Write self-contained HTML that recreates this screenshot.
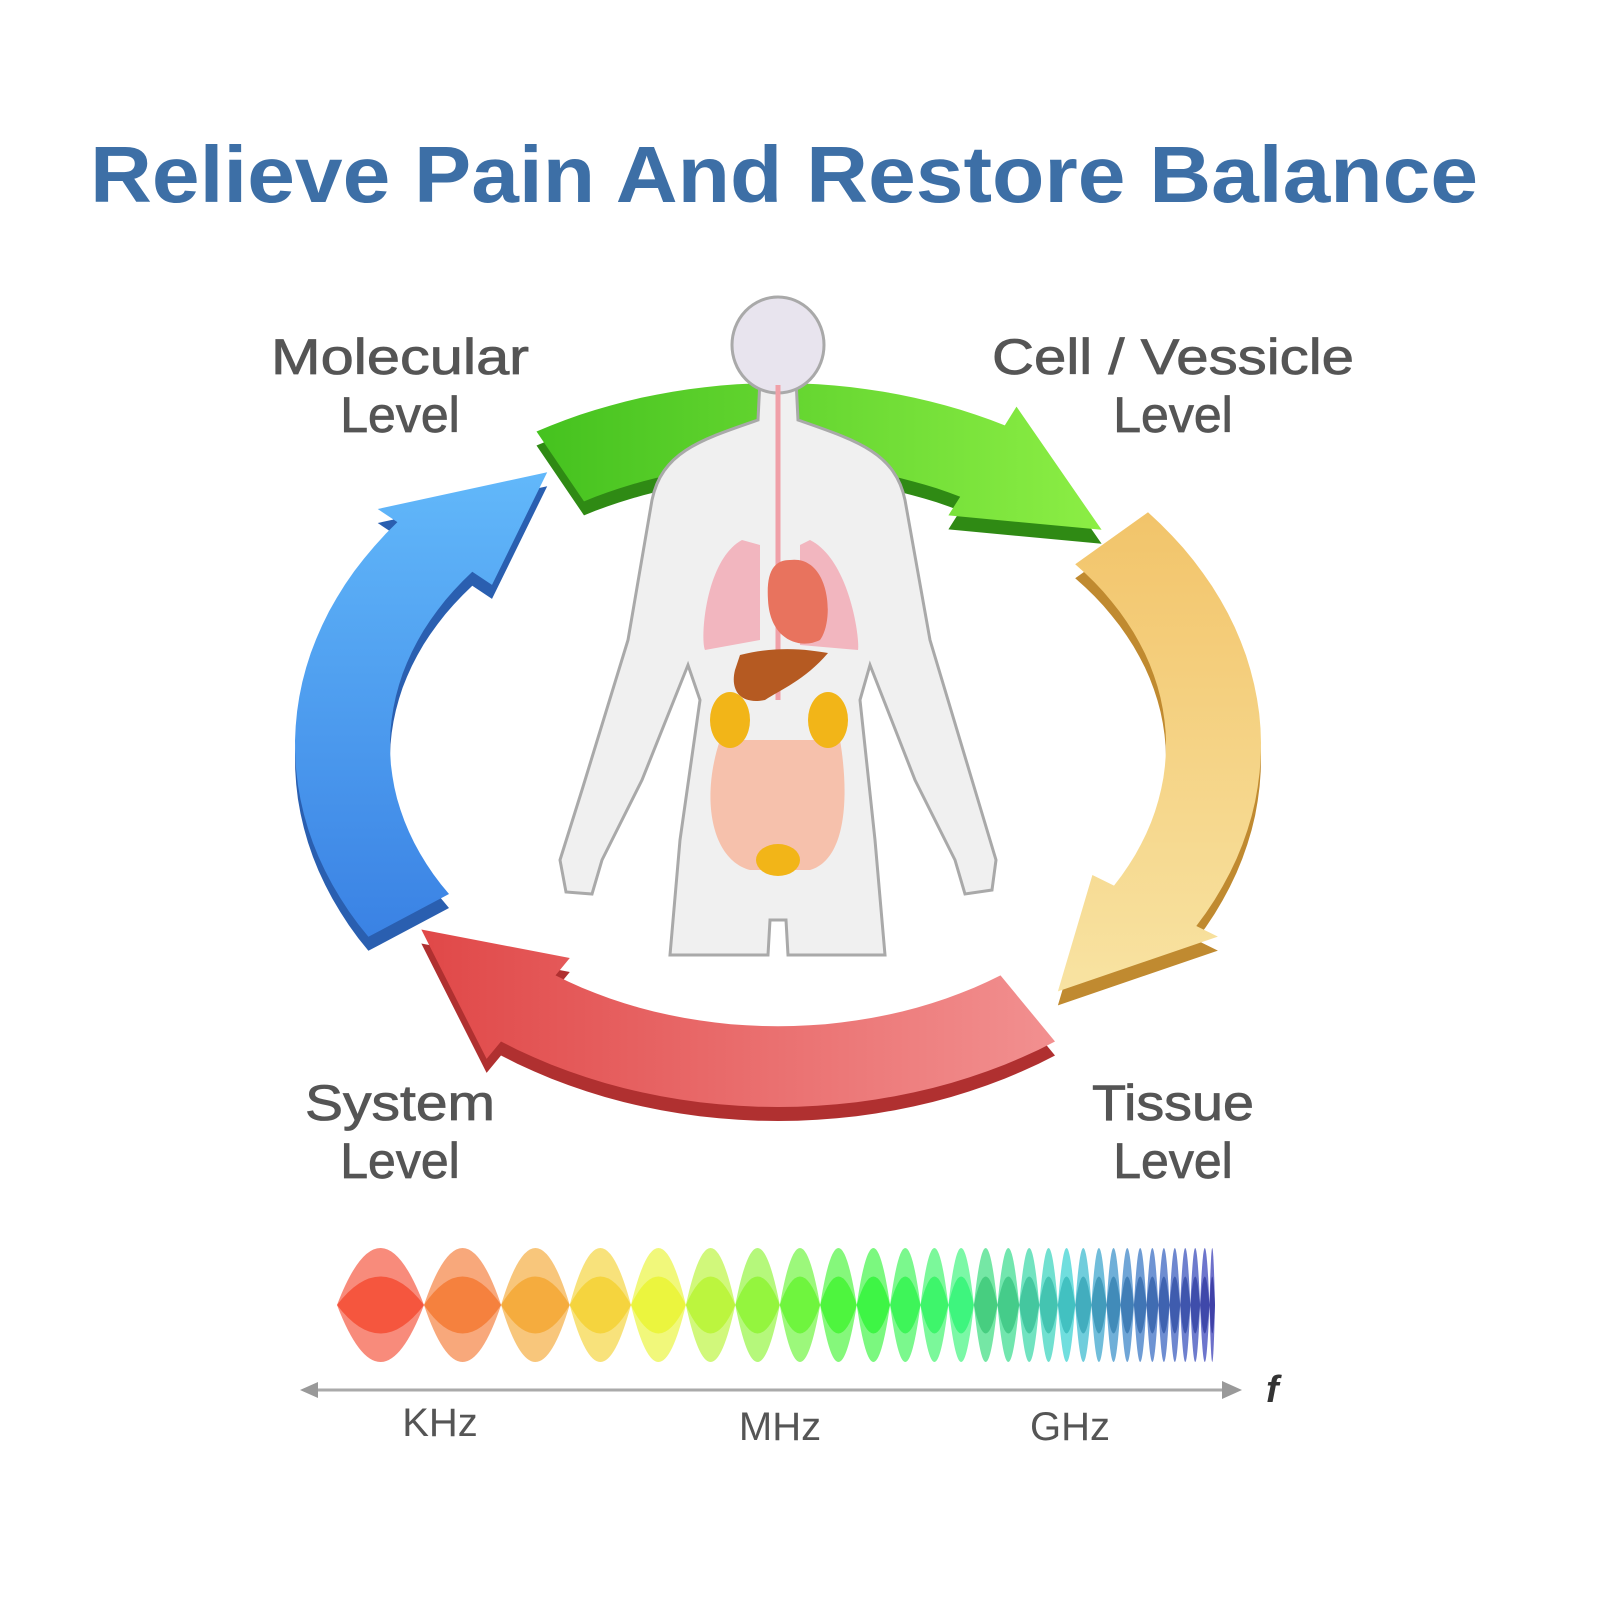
<!DOCTYPE html>
<html><head><meta charset="utf-8"><style>
html,body{margin:0;padding:0;background:#fff;width:1600px;height:1600px;overflow:hidden}
svg{display:block}
text{font-family:"Liberation Sans","DejaVu Sans",sans-serif}
</style></head><body>
<svg id="s" width="1600" height="1600" viewBox="0 0 1600 1600" xmlns="http://www.w3.org/2000/svg">
<defs>
<linearGradient id="gG" x1="0" y1="0" x2="1" y2="0"><stop offset="0" stop-color="#45c21f"/><stop offset="1" stop-color="#8cee45"/></linearGradient>
<linearGradient id="gY" x1="0" y1="0" x2="0" y2="1"><stop offset="0" stop-color="#f2c46a"/><stop offset="1" stop-color="#f8e3a2"/></linearGradient>
<linearGradient id="gR" x1="0" y1="0" x2="1" y2="0"><stop offset="0" stop-color="#e04848"/><stop offset="1" stop-color="#f29090"/></linearGradient>
<linearGradient id="gB" x1="0" y1="1" x2="0" y2="0"><stop offset="0" stop-color="#3a82e4"/><stop offset="1" stop-color="#62b8fa"/></linearGradient>
</defs>
<text x="90" y="202" textLength="1388" lengthAdjust="spacingAndGlyphs" font-size="80" font-weight="bold" fill="#3d6fa6">Relieve Pain And Restore Balance</text>
<g font-size="50" fill="#555" text-anchor="middle" stroke="#555" stroke-width="0.8">
<text x="400" y="374" textLength="258" lengthAdjust="spacingAndGlyphs">Molecular</text><text x="400" y="432">Level</text>
<text x="1173" y="374" textLength="362" lengthAdjust="spacingAndGlyphs">Cell / Vessicle</text><text x="1173" y="432">Level</text>
<text x="400" y="1120" textLength="190" lengthAdjust="spacingAndGlyphs">System</text><text x="400" y="1178">Level</text>
<text x="1173" y="1120" textLength="162" lengthAdjust="spacingAndGlyphs">Tissue</text><text x="1173" y="1178">Level</text>
</g>
<g id="arrows"></g>
<g id="body">
<path d="M760 380 L758 420 C700 440 662 452 652 500 L628 640 L582 790 L560 860 L566 892 L592 894 L602 860 L642 780 L688 665 L700 700 L680 840 L670 955 L768 955 L770 920 L786 920 L788 955 L885 955 L875 840 L860 700 L870 665 L915 780 L955 860 L965 894 L992 890 L996 860 L975 790 L930 640 L905 500 C895 452 855 440 798 420 L796 380 Z" fill="#f0f0f0" stroke="#a9a9a9" stroke-width="3"/>
<ellipse cx="778" cy="345" rx="46" ry="48" fill="#e8e4ee" stroke="#a9a9a9" stroke-width="3"/>
<path d="M742 540 C705 560 700 640 705 650 L760 640 L760 545 Z" fill="#f2b6bf"/>
<path d="M810 540 C850 560 860 640 858 650 L800 645 L800 545 Z" fill="#f2b6bf"/>
<line x1="778" y1="385" x2="778" y2="700" stroke="#f0a0a8" stroke-width="5"/>
<path d="M790 560 C830 555 835 620 820 640 C800 650 770 640 768 600 C766 570 775 560 790 560Z" fill="#e8735e"/>
<path d="M740 655 C780 645 810 650 828 653 C805 680 780 690 765 700 C740 705 730 690 735 670Z" fill="#b55a22"/>
<path d="M720 740 C700 800 712 860 750 870 L810 870 C845 860 850 800 840 740 Z" fill="#f7b9a0" opacity="0.85"/>
<ellipse cx="730" cy="720" rx="20" ry="28" fill="#f2b518"/>
<ellipse cx="828" cy="720" rx="20" ry="28" fill="#f2b518"/>
<ellipse cx="778" cy="860" rx="22" ry="16" fill="#f2b518"/>
</g>
<line x1="305" y1="1390" x2="1235" y2="1390" stroke="#aaa" stroke-width="3"/>
<path d="M300 1390 L318 1382 L318 1398Z M1242 1390 L1222 1381 L1222 1399Z" fill="#999"/>
<g id="wave"></g>
<g font-size="40" fill="#555" text-anchor="middle">
<text x="440" y="1436">KHz</text><text x="780" y="1440">MHz</text><text x="1070" y="1440">GHz</text>
</g>
<text x="1266" y="1402" font-size="38" font-style="italic" font-weight="bold" fill="#333">f</text>
</svg>
<script>
var NS="http://www.w3.org/2000/svg";
var cx=778,cy=745,rxo=483,ryo=362,th=95;
function pt(t,r){var a=t*Math.PI/180;return [cx+(rxo-r)*Math.cos(a),cy+(ryo-r*0.85)*Math.sin(a)];}
function arrow(a1,a2,fill,dark){
 var dir=a2>a1?1:-1,head=20*dir,body=a2-head,pts=[],n=30,i;
 for(i=0;i<=n;i++)pts.push(pt(a1+(body-a1)*i/n,0));
 pts.push(pt(body,-25));pts.push(pt(a2,th/2));pts.push(pt(body,th+25));
 for(i=n;i>=0;i--)pts.push(pt(a1+(body-a1)*i/n,th));
 var d="M"+pts.map(function(p){return p[0].toFixed(1)+" "+p[1].toFixed(1)}).join(" L")+"Z";
 var g=document.getElementById("arrows");
 var sh=document.createElementNS(NS,"path");sh.setAttribute("d",d);sh.setAttribute("fill",dark);sh.setAttribute("transform","translate(0,14)");g.appendChild(sh);
 var p=document.createElementNS(NS,"path");p.setAttribute("d",d);p.setAttribute("fill",fill);g.appendChild(p);
}
arrow(148,238,"url(#gB)","#2a5fb0");
arrow(55,145,"url(#gR)","#b03030");
arrow(-40,50,"url(#gY)","#c08a30");
arrow(240,318,"url(#gG)","#2f8a14");
function hueAt(f){var s=[[0,8],[0.12,25],[0.3,55],[0.55,115],[0.75,150],[0.88,205],[1,240]];
 for(var i=1;i<s.length;i++){if(f<=s[i][0]){var u=(f-s[i-1][0])/(s[i][0]-s[i-1][0]);return s[i-1][1]+u*(s[i][1]-s[i-1][1]);}}return 240;}
var wg=document.getElementById("wave"),x=337,y0=1305,H=114;
while(x<1215){
 var f=(x-337)/878,w=78*Math.pow(1-f,1.3)+9;
 if(x+w>1215)w=1215-x;
 var hue=hueAt(f),L=f>0.7?(52-(f-0.7)*40):58,S=f>0.7?70:90;
 var p=document.createElementNS(NS,"path");
 p.setAttribute("d","M"+x+" "+y0+" Q"+(x+w/2)+" "+(y0-H)+" "+(x+w)+" "+y0+" Q"+(x+w/2)+" "+(y0+H)+" "+x+" "+y0+"Z");
 p.setAttribute("fill","hsl("+hue+","+S+"%,"+L+"%)");p.setAttribute("opacity","0.65");
 wg.appendChild(p);
 var q=document.createElementNS(NS,"path");
 q.setAttribute("d","M"+x+" "+y0+" Q"+(x+w/2)+" "+(y0-H*0.5)+" "+(x+w)+" "+y0+" Q"+(x+w/2)+" "+(y0+H*0.5)+" "+x+" "+y0+"Z");
 q.setAttribute("fill","hsl("+hue+","+S+"%,"+(L-8)+"%)");q.setAttribute("opacity","0.55");
 wg.appendChild(q);
 x+=w;
}
</script>
</body></html>
